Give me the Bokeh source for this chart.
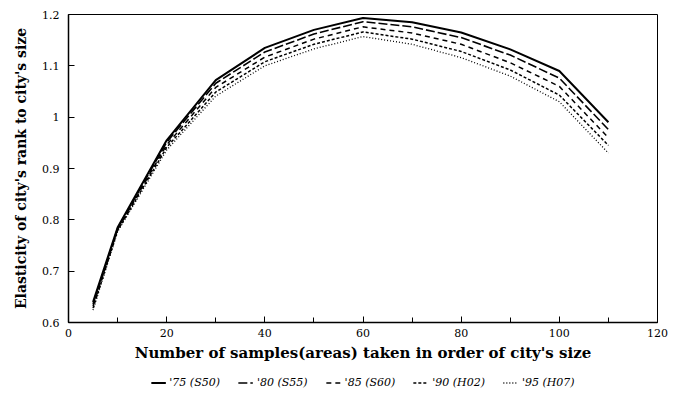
from bokeh.plotting import figure
from bokeh.layouts import column
from bokeh.models import Range1d, FixedTicker, Legend, LegendItem
from bokeh.embed import file_html
from bokeh.resources import INLINE

samples = [5, 10, 20, 30, 40, 50, 60, 70, 80, 90, 100, 110]
y75 = [0.640, 0.785, 0.955, 1.072, 1.135, 1.170, 1.193, 1.185, 1.165, 1.132, 1.090, 0.990]
y80 = [0.636, 0.783, 0.951, 1.066, 1.127, 1.162, 1.186, 1.176, 1.155, 1.121, 1.076, 0.976]
y85 = [0.632, 0.781, 0.946, 1.058, 1.117, 1.152, 1.176, 1.164, 1.142, 1.106, 1.060, 0.960]
y90 = [0.628, 0.779, 0.941, 1.049, 1.108, 1.142, 1.166, 1.152, 1.128, 1.092, 1.043, 0.945]
y95 = [0.624, 0.777, 0.936, 1.041, 1.100, 1.133, 1.157, 1.142, 1.116, 1.080, 1.030, 0.930]
labels = ["'75 (S50)", "'80 (S55)", "'85 (S60)", "'90 (H02)", "'95 (H07)"]

series = [y75, y80, y85, y90, y95]
dashes = ["solid", "9 3", "5 4", "3 2", "1 2"]
widths = [2.0, 1.6, 1.5, 1.5, 1.3]

FONT = "DejaVu Serif"

p = figure(width=697, height=370, output_backend="svg", toolbar_location=None,
           x_range=Range1d(0, 120), y_range=Range1d(0.6, 1.2),
           min_border_left=68, min_border_right=11, min_border_top=14, min_border_bottom=48)
p.background_fill_color = "white"
p.border_fill_color = "white"
p.grid.visible = False
p.outline_line_color = "black"
p.outline_line_width = 1

for ys, d, w in zip(series, dashes, widths):
    p.line(samples, ys, line_color="black", line_dash=d, line_width=w)

p.xaxis.ticker = FixedTicker(ticks=[0, 20, 40, 60, 80, 100, 120], minor_ticks=list(range(0, 121, 10)))
p.yaxis.ticker = FixedTicker(ticks=[0.6, 0.7, 0.8, 0.9, 1.0, 1.1, 1.2])
p.yaxis.major_label_overrides = {0.6: "0.6", 0.7: "0.7", 0.8: "0.8", 0.9: "0.9", 1.0: "1", 1.1: "1.1", 1.2: "1.2"}
for ax in (p.xaxis, p.yaxis):
    ax.axis_line_color = "black"
    ax.axis_line_width = 1.5
    ax.major_tick_in = 6
    ax.major_tick_out = 0
    ax.minor_tick_in = 5
    ax.minor_tick_out = 0
    ax.major_tick_line_color = "black"
    ax.minor_tick_line_color = "black"
    ax.major_label_text_font = FONT
    ax.major_label_text_font_size = "11px"
    ax.major_label_text_color = "black"
    ax.axis_label_text_font = FONT
    ax.axis_label_text_font_style = "bold"
    ax.axis_label_text_color = "black"
p.xaxis.axis_label_text_font_size = "15px"
p.yaxis.axis_label_text_font_size = "14px"
p.yaxis.minor_tick_line_color = None
p.xaxis.axis_label = "Number of samples(areas) taken in order of city's size"
p.yaxis.axis_label = "Elasticity of city's rank to city's size"
p.xaxis.major_label_standoff = 6
p.xaxis.axis_label_standoff = 4
p.yaxis.major_label_standoff = 9
p.yaxis.axis_label_standoff = 10

# legend strip below the chart (series drawn outside its visible range, only the legend shows)
pl = figure(width=697, height=24, output_backend="svg", toolbar_location=None,
            x_range=Range1d(1000, 1001), y_range=Range1d(1000, 1001),
            min_border_left=0, min_border_right=40, min_border_top=0, min_border_bottom=0)
pl.axis.visible = False
pl.grid.visible = False
pl.outline_line_color = None
pl.background_fill_color = "white"
pl.border_fill_color = "white"
items = []
for ys, d, w, lab in zip(series, dashes, widths, labels):
    r = pl.line(samples, ys, line_color="black", line_dash=d, line_width=w)
    items.append(LegendItem(label=lab, renderers=[r]))
legend = Legend(items=items, orientation="horizontal", border_line_color=None,
                background_fill_alpha=0, label_text_font=FONT, label_text_font_style="italic",
                label_text_font_size="11px", label_text_color="black",
                glyph_width=15, glyph_height=12, spacing=18,
                padding=0, margin=0, label_standoff=4, location="center")
pl.add_layout(legend, "center")

layout = column(p, pl, spacing=0)
open("out.html", "w").write(file_html(layout, INLINE))
